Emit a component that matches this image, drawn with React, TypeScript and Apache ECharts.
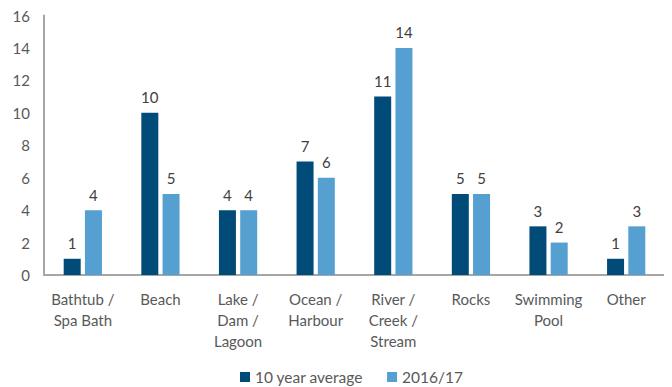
import React, { useEffect, useRef } from "react";
import * as echarts from "echarts";

const categories = [
  "Bathtub /\nSpa Bath",
  "Beach",
  "Lake /\nDam /\nLagoon",
  "Ocean /\nHarbour",
  "River /\nCreek /\nStream",
  "Rocks",
  "Swimming\nPool",
  "Other",
];
const tenYearAverage = [1, 10, 4, 7, 11, 5, 3, 1];
const season201617 = [4, 5, 4, 6, 14, 5, 2, 3];
const seriesNames = ["10 year average", "2016/17"];

const FONT = "Lato, 'Open Sans', sans-serif";
const TEXT = "#595959";

export default function App() {
  const ref = useRef<HTMLDivElement>(null);
  useEffect(() => {
    if (!ref.current) return;
    const chart = echarts.init(ref.current, null, { renderer: "svg" });
    const label = {
      show: true,
      position: "top",
      distance: 8,
      color: "#404040",
      fontSize: 15,
      fontFamily: FONT,
    };
    chart.setOption({
      animation: false,
      textStyle: { fontFamily: FONT },
      grid: { left: 36, right: 7, top: 7, height: 260, containLabel: false },
      legend: {
        top: 356,
        left: 227,
        itemWidth: 10,
        itemHeight: 10,
        itemGap: 24,
        icon: "rect",
        textStyle: { color: TEXT, fontSize: 15.5, fontFamily: FONT },
        data: seriesNames,
      },
      xAxis: {
        type: "category",
        data: categories,
        axisLine: { lineStyle: { color: "#A6A6A6", width: 2 } },
        axisTick: { show: false },
        axisLabel: {
          color: TEXT,
          fontSize: 15,
          fontFamily: FONT,
          lineHeight: 21,
          margin: 13,
          interval: 0,
        },
      },
      yAxis: {
        type: "value",
        min: 0,
        max: 16,
        interval: 2,
        axisLine: { show: true, lineStyle: { color: "#A6A6A6", width: 2 } },
        axisTick: { show: false },
        splitLine: { show: false },
        axisLabel: { color: TEXT, fontSize: 15, fontFamily: FONT, margin: 14 },
      },
      series: [
        {
          name: seriesNames[0],
          type: "bar",
          data: tenYearAverage,
          barWidth: 17,
          barGap: "25%",
          itemStyle: { color: "#004B78" },
          label,
        },
        {
          name: seriesNames[1],
          type: "bar",
          data: season201617,
          barWidth: 17,
          itemStyle: { color: "#559FD1" },
          label,
        },
      ],
    });
    return () => chart.dispose();
  }, []);
  return <div ref={ref} style={{ width: 664, height: 379 }} />;
}
